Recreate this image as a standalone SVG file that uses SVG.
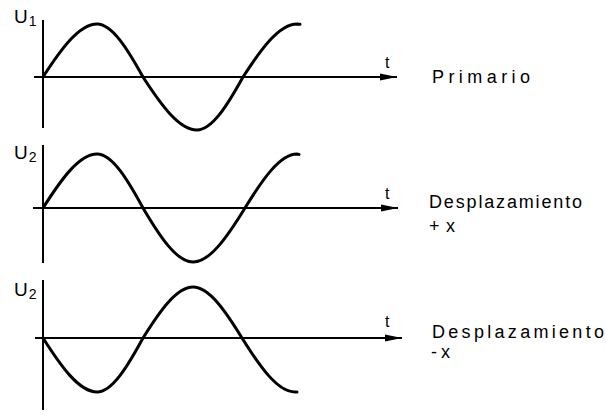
<svg xmlns="http://www.w3.org/2000/svg" width="606" height="415" viewBox="0 0 606 415">
<defs>
<marker id="arr" markerUnits="userSpaceOnUse" markerWidth="18" markerHeight="10" refX="17" refY="5" orient="auto">
<path d="M0,1.5 L17,5 L0,8.5 Z" fill="#000"/>
</marker>
<style>
.ax{stroke:#000;stroke-width:2;fill:none}
.wave{stroke:#000;stroke-width:3;fill:none;stroke-linecap:round}
.lbl{font-family:"Liberation Sans",Arial,sans-serif;fill:#000}
.u{font-size:19px}
.sub{font-size:14px}
.t{font-size:16px}
.cap{font-size:18px}
</style>
</defs>
<rect width="606" height="415" fill="#fff"/>
<g id="connectors">
<line class="ax" x1="43" y1="20" x2="43" y2="128"/>
<line class="ax" x1="34" y1="77" x2="397" y2="77" marker-end="url(#arr)"/>
<line class="ax" x1="43" y1="145" x2="43" y2="263"/>
<line class="ax" x1="33" y1="208" x2="398" y2="208" marker-end="url(#arr)"/>
<line class="ax" x1="43" y1="280" x2="43" y2="410"/>
<line class="ax" x1="35" y1="338" x2="402" y2="338" marker-end="url(#arr)"/>
</g>
<g id="primario">
<path class="wave" d="M43,77 C60.6,49.85 79,24 97,24 C112.3,24 128,49.85 143,77 C160.6,104.15 179,130 197,130 C212.3,130 228,104.15 243,77 C260.6,49.85 279,24 297,24 L300,24.3"/>
<text class="lbl u" x="14" y="23">U<tspan class="sub" dx="1" dy="3">1</tspan></text>
<text class="lbl t" x="385" y="68">t</text>
<text class="lbl cap" x="432" y="83" textLength="98" lengthAdjust="spacing">Primario</text>
</g>
<g id="desplazamiento-pos">
<path class="wave" d="M43,208 C60.6,180.34 79,154 97,154 C112.3,154 128,180.34 143,208 C159.3,235.66 176.4,262 193,262 C210.3,262 228,235.66 245,208 C262,180.34 279.7,154 297,154 L299,154.4"/>
<text class="lbl u" x="14" y="159">U<tspan class="sub" dx="1" dy="3">2</tspan></text>
<text class="lbl t" x="385" y="199">t</text>
<text class="lbl cap" x="429" y="208" textLength="153" lengthAdjust="spacing">Desplazamiento</text>
<text class="lbl cap" x="429" y="232" font-size="16" textLength="26" lengthAdjust="spacing">+ x</text>
</g>
<g id="desplazamiento-neg">
<path class="wave" d="M43,338 C60.6,365.66 79,392 97,392 C112.3,392 128,365.66 143,338 C159.3,311.87 176.4,287 193,287 C209.3,287 226,311.87 242,338 C259.3,365.66 277.4,392 295,392 L297,392"/>
<text class="lbl u" x="14" y="296">U<tspan class="sub" dx="1" dy="3">2</tspan></text>
<text class="lbl t" x="385" y="327">t</text>
<text class="lbl cap" x="432" y="338" textLength="172" lengthAdjust="spacing">Desplazamiento</text>
<text class="lbl cap" x="431" y="358" font-size="16" textLength="19" lengthAdjust="spacing">- x</text>
</g>
</svg>
